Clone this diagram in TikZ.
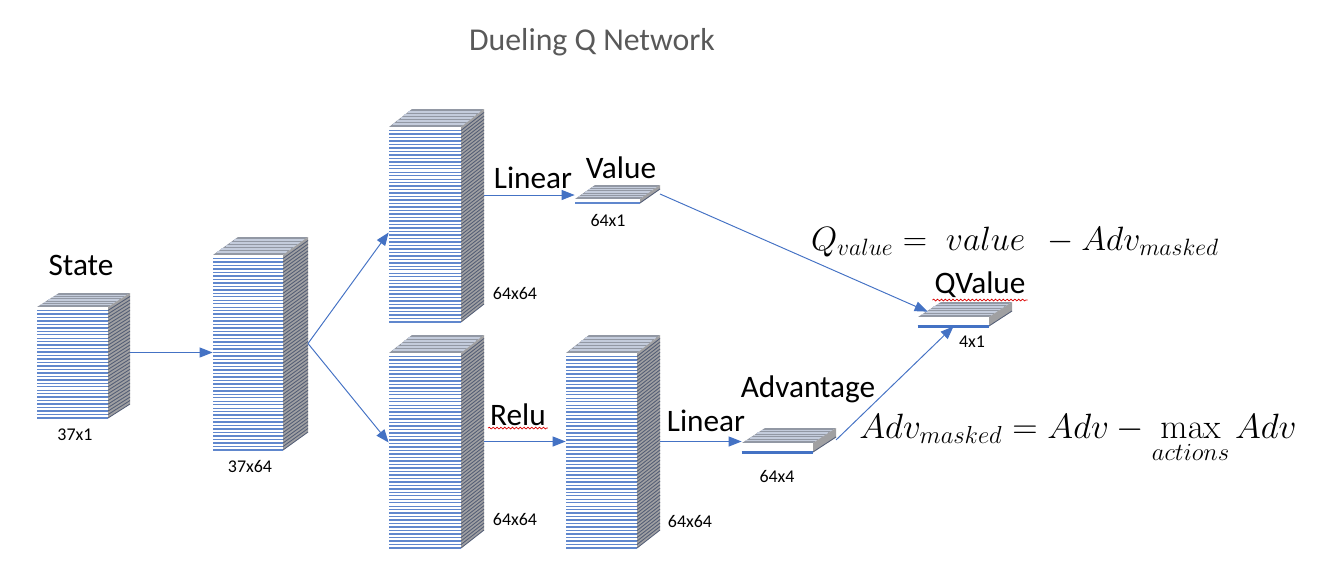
\RequirePackage{fix-cm}
\documentclass[tikz,border=0pt]{standalone}
\usepackage[no-math]{fontspec}
\setmainfont{Carlito}
\usepackage{amsmath}
\usepackage{tikz}
\usetikzlibrary{calc}
\usetikzlibrary{arrows.meta}
\usetikzlibrary{decorations.pathmorphing}

\definecolor{netblue}{RGB}{68,114,196}
\definecolor{titlegray}{RGB}{89,89,89}
\definecolor{topgray}{RGB}{146,152,164}
\definecolor{sidegray}{RGB}{160,160,162}

\tikzset{
  topface/.style={fill=topgray},
  topline/.style={draw={rgb,255:red,196;green,204;blue,220}, line width=0.6pt},
  sideface/.style={fill=sidegray},
  sideline/.style={draw={rgb,255:red,84;green,94;blue,118}, line width=0.5pt},
  layerline/.style={draw=netblue!85, line width=0.8pt},
  flow/.style={draw=netblue, line width=0.55pt, -{Triangle[length=2.6mm, width=2mm]}},
  biglabel/.style={font=\fontsize{17.8}{20}\selectfont, inner sep=1pt},
  dimlabel/.style={font=\fontsize{10.2}{12}\selectfont, inner sep=1pt},
  formula/.style={font=\fontsize{19.2}{23}\selectfont, inner sep=1pt},
  spell/.style={draw=red!85!black, line width=0.4pt, decorate, decoration={snake, amplitude=0.5pt, segment length=2.2pt}}
}

% name, x, y (front top-left), width, height, depth x, depth y, layers
\newcommand{\layerstack}[8]{%
  % top face
  \fill[topface] (#2,#3) -- ++(#6,-#7) -- ++(#4,0) -- ++(-#6,#7) -- cycle;
  \foreach \k in {1,...,5}
    \draw[topline] ($(#2,#3)+\k/6*(#6,-#7)$) -- ++(#4,0);
  % side face
  \fill[sideface] ({#2+#4},#3) -- ++(#6,-#7) -- ++(0,#5) -- ++(-#6,#7) -- cycle;
  % front face
  \fill[white] (#2,#3) rectangle ++(#4,#5);
  \foreach \i in {1,...,#8} {
    \draw[layerline] (#2,{#3+\i*#5/#8}) -- ++(#4,0);
    \draw[sideline] ({#2+#4},{#3+\i*#5/#8}) -- ++(#6,-#7);
  }
  \node[inner sep=0pt, minimum width=#4*0.02cm, minimum height=#5*0.02cm] (#1) at ({#2+#4/2},{#3+#5/2}) {};
  \coordinate (#1-back) at ({#2+#4+#6},{#3+#5/2-#7/2});
}

\begin{document}
\begin{tikzpicture}[x=0.02cm, y=-0.02cm]
    \useasboundingbox (0,0) rectangle (1324,571);

    % Title
    \node[font=\fontsize{18.1}{21}\selectfont, text=titlegray] (title) at (592,42) {Dueling Q Network};

    % Layer stacks
    \layerstack{state}{37}{307}{71}{111}{22}{14}{32}
    \layerstack{hidden}{213}{255}{70}{195}{25}{18}{56}
    \layerstack{valhid}{389}{127}{72}{195}{23}{18}{56}
    \layerstack{advhid}{389}{353}{72}{195}{23}{18}{56}
    \layerstack{advfc}{566}{353}{71}{195}{23}{18}{56}

    % Output slabs
    \layerstack{value}{575}{199}{65}{4}{20}{14}{1}
    \layerstack{adv}{742}{443}{71}{9}{23}{15}{1}
    \layerstack{qval}{918}{317}{71}{9}{23}{15}{1}
    \draw[netblue, line width=1.4pt] (adv.south west) -- (adv.south east);
    \draw[netblue, line width=1.4pt] (qval.south west) -- (qval.south east);

    % Connections
    \draw[flow] (hidden.west -| state-back) -- (hidden.west);
    \draw[flow] (hidden-back) -- ([yshift=-0.16cm]valhid.west);
    \draw[flow] (hidden-back) -- ([yshift=0.16cm]advhid.west);
    \draw[flow] ([yshift=0.12cm]value.west -| valhid-back) -- ([yshift=0.12cm]value.west);
    \draw[flow] (value-back) -- ($(qval.north west)+(10,-5)$);
    \draw[flow] (advhid-back) -- (advhid-back -| advfc.west);
    \draw[flow] (advfc-back) -- (advfc-back -| adv.west);
    \draw[flow] (adv-back) -- (qval.south);

    % Labels
    \node[biglabel] (statelbl) at (81,265) {State};
    \node[dimlabel] (statedim) at (75,435) {37x1};
    \node[dimlabel] (hiddendim) at (250,467) {37x64};
    \node[dimlabel] (valhiddim) at (515,294) {64x64};
    \node[biglabel] (linval) at (533,178) {Linear};
    \node[biglabel] (valuelbl) at (621,168) {Value};
    \node[dimlabel] (valuedim) at (608,221) {64x1};
    \node[dimlabel] (advhiddim) at (515,520) {64x64};
    \node[biglabel] (relu) at (518,415) {Relu};
    \node[dimlabel] (advfcdim) at (690,522) {64x64};
    \node[biglabel] (linadv) at (706,421) {Linear};
    \node[biglabel] (advlbl) at (808,389) {Advantage};
    \node[dimlabel] (advdim) at (777,477) {64x4};
    \node[biglabel] (qvallbl) at (980,285) {QValue};
    \node[dimlabel] (qvaldim) at (972,342) {4x1};
    \draw[spell] (relu.south west) -- (relu.south east);
    \draw[spell] (qvallbl.south west) -- (qvallbl.south east);

    % Formulas
    \node[formula] (qform) at (1015,242) {$Q_{value} =\; value\;\, - Adv_{masked}$};
    \node[formula, font=\fontsize{20}{24}\selectfont] (advform) at (1078,439) {$\displaystyle Adv_{masked} = Adv - \max_{actions} Adv$};

\end{tikzpicture}
\end{document}
